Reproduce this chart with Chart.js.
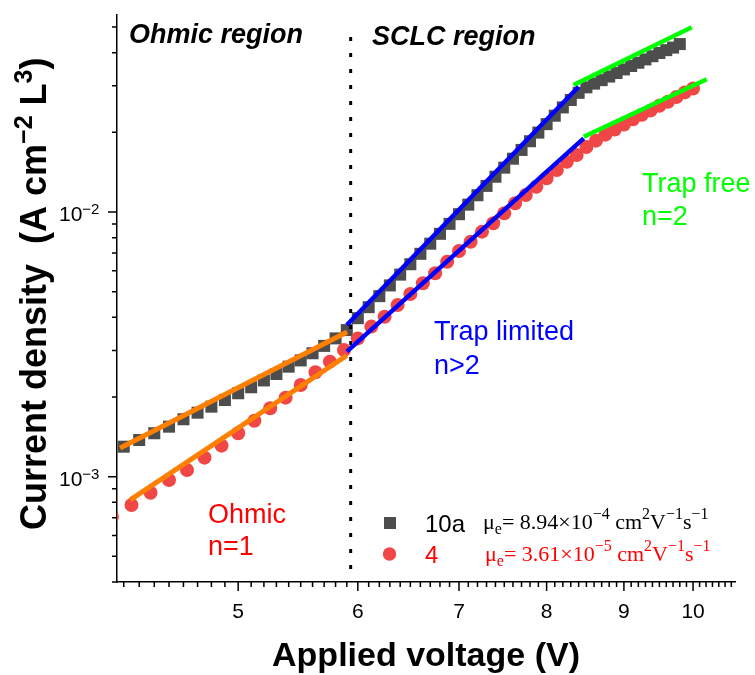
<!DOCTYPE html>
<html><head><meta charset="utf-8">
<script src="https://cdn.jsdelivr.net/npm/chart.js@4/dist/chart.umd.min.js"></script>
<style>html,body{margin:0;padding:0;background:#fff}canvas{display:block}</style>
</head><body>
<canvas id="c" width="755" height="675"></canvas>
<script>
// ---- data ----
const voltage10a = [4.2,4.3,4.4,4.5,4.6,4.7,4.8,4.9,5.0,5.1,5.2,5.3,5.4,5.5,5.6,5.7,5.8,5.9,6.0,6.1,6.2,6.3,6.4,6.5,6.6,6.7,6.8,6.9,7.0,7.1,7.2,7.3,7.4,7.5,7.6,7.7,7.8,7.9,8.0,8.1,8.2,8.3,8.4,8.5,8.6,8.7,8.8,8.9,9.0,9.1,9.2,9.3,9.4,9.5,9.6,9.7,9.8];
const current10a = [1.298e-3,1.376e-3,1.459e-3,1.545e-3,1.648e-3,1.745e-3,1.839e-3,1.949e-3,2.066e-3,2.177e-3,2.31e-3,2.443e-3,2.604e-3,2.75e-3,2.926e-3,3.12e-3,3.33e-3,3.58e-3,3.97e-3,4.37e-3,4.81e-3,5.28e-3,5.80e-3,6.35e-3,6.95e-3,7.59e-3,8.27e-3,9.02e-3,9.81e-3,1.066e-2,1.157e-2,1.255e-2,1.359e-2,1.471e-2,1.590e-2,1.716e-2,1.851e-2,1.995e-2,2.148e-2,2.311e-2,2.484e-2,2.65e-2,2.82e-2,2.958e-2,3.055e-2,3.149e-2,3.249e-2,3.350e-2,3.457e-2,3.561e-2,3.664e-2,3.771e-2,3.878e-2,3.987e-2,4.088e-2,4.18e-2,4.31e-2];
const voltage4 = [4.125,4.25,4.375,4.5,4.625,4.75,4.875,5.0,5.125,5.25,5.375,5.5,5.625,5.75,5.875,6.0,6.125,6.25,6.375,6.5,6.625,6.75,6.875,7.0,7.125,7.25,7.375,7.5,7.625,7.75,7.875,8.0,8.125,8.25,8.375,8.5,8.625,8.75,8.875,9.0,9.125,9.25,9.375,9.5,9.625,9.75,9.875,10.0];
const current4 = [7.06e-4,7.82e-4,8.70e-4,9.72e-4,1.060e-3,1.180e-3,1.310e-3,1.459e-3,1.627e-3,1.813e-3,1.989e-3,2.221e-3,2.480e-3,2.720e-3,3.011e-3,3.33e-3,3.69e-3,4.02e-3,4.45e-3,4.90e-3,5.38e-3,5.87e-3,6.49e-3,7.12e-3,7.72e-3,8.43e-3,9.07e-3,9.89e-3,1.079e-2,1.159e-2,1.246e-2,1.341e-2,1.441e-2,1.549e-2,1.642e-2,1.76e-2,1.86e-2,1.96e-2,2.05e-2,2.14e-2,2.24e-2,2.33e-2,2.42e-2,2.52e-2,2.61e-2,2.72e-2,2.83e-2,2.93e-2];

// fitted straight lines (end points)
const fitOhmic10aV = [4.177, 5.903], fitOhmic10aJ = [1.283e-3, 3.52e-3];
const fitOhmic4V   = [4.242, 5.90],  fitOhmic4J   = [8.17e-4, 2.87e-3];
const fitTrap10aV  = [5.90, 8.40],   fitTrap10aJ  = [3.74e-3, 2.974e-2];
const fitTrap4V    = [5.90, 8.465],  fitTrap4J    = [2.966e-3, 1.898e-2];
const fitFree10aV  = [8.335, 9.98],  fitFree10aJ  = [3.02e-2, 4.99e-2];
const fitFree4V    = [8.465, 10.21], fitFree4J    = [1.925e-2, 3.172e-2];
const boundaryV    = [5.935, 5.935], boundaryJ    = [0.0458, 4e-4];

// axes
const xMin = 4.157, xMax = 10.66, yMin = 4e-4, yMax = 0.0555;
const xMajorTicks = [5, 6, 7, 8, 9, 10];
const yMajorTicks = [1e-3, 1e-2];
const yTickExponents = ['\u22123', '\u22122'];
const yMinorTicks = [4e-4,5e-4,6e-4,7e-4,8e-4,9e-4,2e-3,3e-3,4e-3,5e-3,6e-3,7e-3,8e-3,9e-3,2e-2,3e-2,4e-2,5e-2];
const xTitle = 'Applied voltage (V)';
const seriesNames = ['10a', '4'];
const mobilityMantissa = ['8.94', '3.61'];
const mobilityExponent = ['\u22124', '\u22125'];

const SANS = '"Liberation Sans", Arial, sans-serif';
const SERIF = '"Liberation Serif", "Times New Roman", serif';
const C10a = '#4d4d4d', C4 = '#f04646';
const ORANGE = '#ff8000', BLUE = '#0000ff', GREEN = '#00ff00';

const pts = (vs, js) => vs.map((v, i) => ({x: v, y: js[i]}));
const fitDs = (vs, js, color, w) => ({data: pts(vs, js), showLine: true, pointRadius: 0, borderColor: color, borderWidth: w, order: 1, clip: 0});

function drawRuns(ctx, runs, x, y) {
  let cx = x;
  for (const r of runs) {
    ctx.font = (r.style || '') + ' ' + (r.weight || '') + ' ' + r.size + 'px ' + r.family;
    ctx.fillText(r.t, cx, y + (r.dy || 0));
    cx += ctx.measureText(r.t).width;
  }
  return cx - x;
}

const overlay = {
  id: 'overlay',
  afterDraw(chart) {
    const {ctx, chartArea: a, scales: {x, y}} = chart;
    ctx.save();
    // tick marks
    ctx.strokeStyle = '#000'; ctx.lineWidth = 1.5;
    ctx.beginPath();
    const xMinor = [];
    for (let k = 42; k <= 106; k++) { if (k % 10 !== 0) xMinor.push(k / 10); }
    xMinor.forEach(v => { const p = x.getPixelForValue(v); ctx.moveTo(p, a.bottom); ctx.lineTo(p, a.bottom + 5); });
    xMajorTicks.forEach(v => { const p = x.getPixelForValue(v); ctx.moveTo(p, a.bottom); ctx.lineTo(p, a.bottom + 9); });
    yMinorTicks.forEach(v => { const p = y.getPixelForValue(v); ctx.moveTo(a.left, p); ctx.lineTo(a.left - 5, p); });
    yMajorTicks.forEach(v => { const p = y.getPixelForValue(v); ctx.moveTo(a.left, p); ctx.lineTo(a.left - 9, p); });
    ctx.stroke();

    // y tick labels 10^n
    ctx.fillStyle = '#000'; ctx.textAlign = 'left'; ctx.textBaseline = 'alphabetic';
    yMajorTicks.forEach((v, i) => {
      const p = y.getPixelForValue(v);
      drawRuns(ctx, [{t: '10', size: 21, family: SANS}, {t: yTickExponents[i], size: 15, family: SANS, dy: -7}], 59, p + 9.5);
    });

    // y axis title (rotated)
    ctx.save();
    ctx.translate(46, 530);
    ctx.rotate(-Math.PI / 2);
    ctx.fillStyle = '#000';
    drawRuns(ctx, [
      {t: 'Current density  (A cm', size: 36, weight: 'bold', family: SANS},
      {t: '\u22122', size: 25, weight: 'bold', family: SANS, dy: -14},
      {t: ' L', size: 36, weight: 'bold', family: SANS},
      {t: '3', size: 25, weight: 'bold', family: SANS, dy: -14},
      {t: ')', size: 36, weight: 'bold', family: SANS}
    ], 0, 0);
    ctx.restore();

    // region labels
    ctx.fillStyle = '#000';
    ctx.font = 'italic bold 27px ' + SANS;
    ctx.fillText('Ohmic region', 129, 43);
    ctx.fillText('SCLC region', 372, 45);

    // regime annotations
    ctx.font = '27px ' + SANS;
    ctx.fillStyle = '#ff0000';
    ctx.fillText('Ohmic', 208, 523); ctx.fillText('n=1', 208, 555);
    ctx.fillStyle = BLUE;
    ctx.fillText('Trap limited', 434, 340); ctx.fillText('n>2', 434, 374);
    ctx.fillStyle = GREEN;
    ctx.fillText('Trap free', 642, 192); ctx.fillText('n=2', 642, 225);

    // legend
    ctx.fillStyle = C10a; ctx.fillRect(384, 517, 12, 12);
    ctx.fillStyle = C4; ctx.beginPath(); ctx.arc(389.5, 554, 6.7, 0, Math.PI * 2); ctx.fill();
    ctx.font = '24px ' + SANS;
    ctx.fillStyle = '#000'; ctx.fillText(seriesNames[0], 425, 532);
    ctx.fillStyle = '#ff0000'; ctx.fillText(seriesNames[1], 425, 563);
    const mu = (i) => [
      {t: '\u03bc', size: 22, family: SERIF},
      {t: 'e', size: 16, family: SERIF, dy: 5},
      {t: '= ' + mobilityMantissa[i] + '\u00d710', size: 22, family: SERIF},
      {t: mobilityExponent[i], size: 16, family: SERIF, dy: -10},
      {t: ' cm', size: 22, family: SERIF},
      {t: '2', size: 16, family: SERIF, dy: -10},
      {t: 'V', size: 22, family: SERIF},
      {t: '\u22121', size: 16, family: SERIF, dy: -10},
      {t: 's', size: 22, family: SERIF},
      {t: '\u22121', size: 16, family: SERIF, dy: -10}
    ];
    ctx.fillStyle = '#000'; drawRuns(ctx, mu(0), 483, 529);
    ctx.fillStyle = '#ff0000'; drawRuns(ctx, mu(1), 485, 561);
    ctx.restore();
  }
};

new Chart(document.getElementById('c'), {
  type: 'scatter',
  data: {
    datasets: [
      {label: seriesNames[0], data: pts(voltage10a, current10a), pointStyle: 'rect', pointRadius: 8.5, backgroundColor: C10a, borderWidth: 0, order: 10, clip: 0},
      {label: seriesNames[1], data: pts(voltage4, current4), pointStyle: 'circle', pointRadius: 7, backgroundColor: C4, borderWidth: 0, order: 9, clip: 0},
      fitDs(fitOhmic10aV, fitOhmic10aJ, ORANGE, 5),
      fitDs(fitOhmic4V, fitOhmic4J, ORANGE, 5),
      fitDs(fitTrap10aV, fitTrap10aJ, BLUE, 4.5),
      fitDs(fitTrap4V, fitTrap4J, BLUE, 4.5),
      fitDs(fitFree10aV, fitFree10aJ, GREEN, 4.5),
      fitDs(fitFree4V, fitFree4J, GREEN, 4.5),
      {data: pts(boundaryV, boundaryJ), showLine: true, pointRadius: 0, borderColor: '#000', borderWidth: 3, borderDash: [4, 12], order: 2, clip: 0}
    ]
  },
  options: {
    responsive: false, animation: false, devicePixelRatio: 1,
    layout: {padding: {left: 0, right: 20, top: 15, bottom: 0}},
    plugins: {legend: {display: false}, tooltip: {enabled: false}},
    scales: {
      x: {
        type: 'logarithmic', min: xMin, max: xMax,
        afterBuildTicks: s => { s.ticks = xMajorTicks.map(v => ({value: v})); },
        afterFit: s => { s.height = 93; },
        grid: {display: false, drawTicks: false},
        border: {display: true, color: '#000', width: 1.5},
        ticks: {autoSkip: false, maxRotation: 0, padding: 18, color: '#000', font: {family: SANS, size: 21}, callback: v => String(v)},
        title: {display: true, text: xTitle, color: '#000', font: {family: SANS, size: 34, weight: 'bold'}, padding: {top: 0, bottom: -2}}
      },
      y: {
        type: 'logarithmic', min: yMin, max: yMax,
        afterBuildTicks: s => { s.ticks = yMajorTicks.map(v => ({value: v})); },
        afterFit: s => { s.width = 117; },
        grid: {display: false, drawTicks: false},
        border: {display: true, color: '#000', width: 1.5},
        ticks: {display: false}
      }
    }
  },
  plugins: [overlay]
});
</script>
</body></html>
